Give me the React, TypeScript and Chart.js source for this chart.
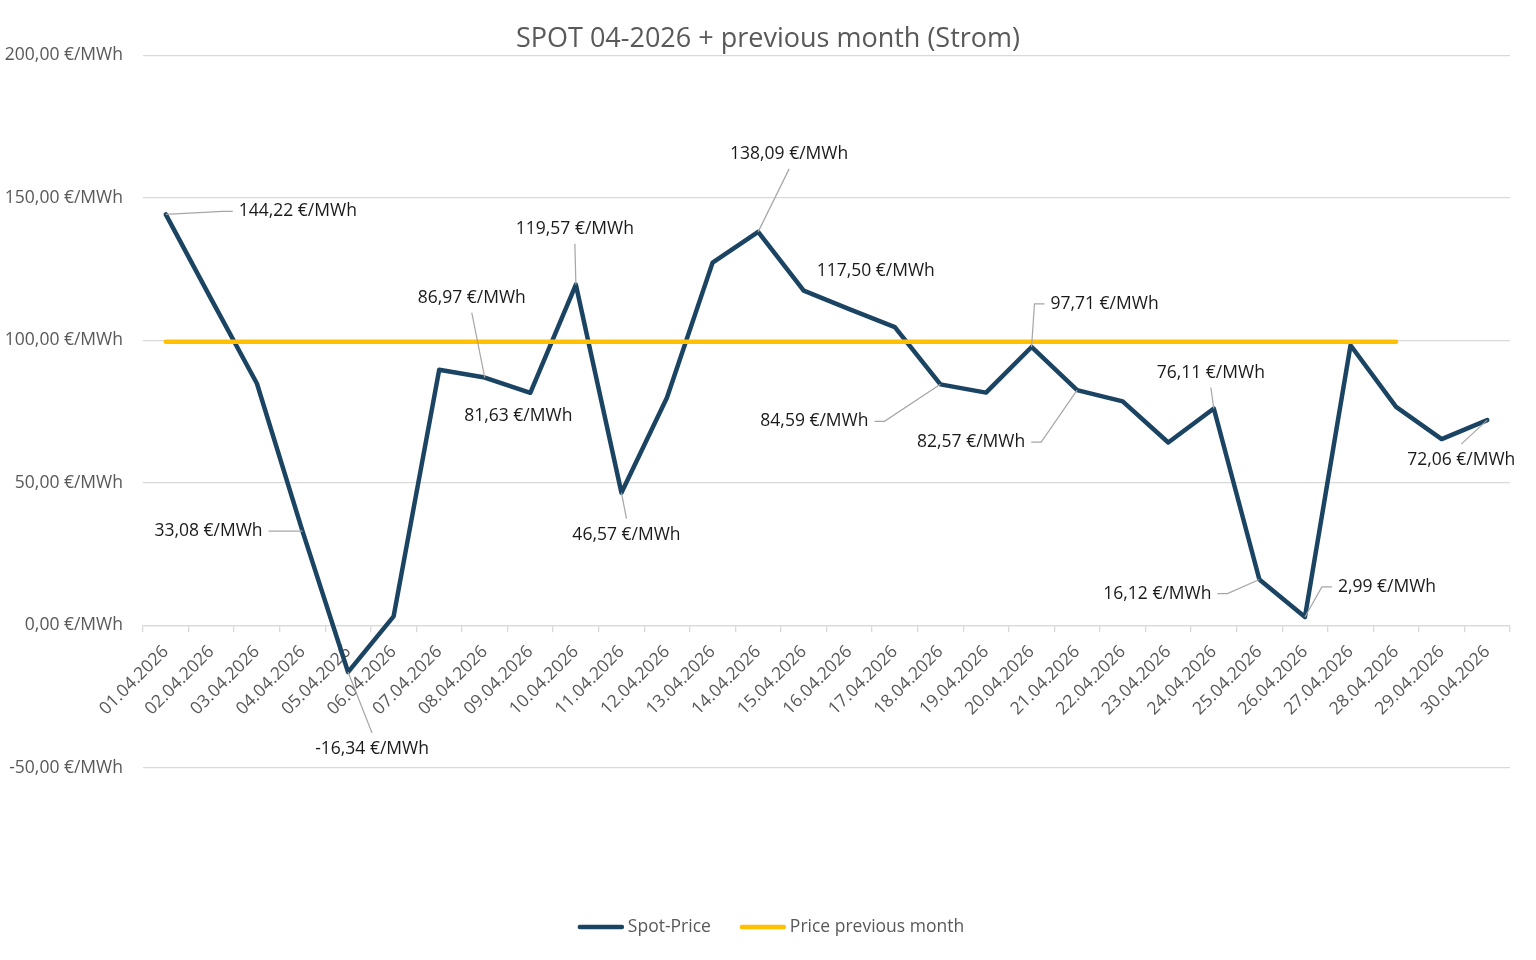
import React, { useEffect, useRef } from 'react';
import { Chart, registerables } from 'chart.js';

Chart.register(...registerables);

// ---------- data ----------
const TITLE = 'SPOT 04-2026 + previous month (Strom)';

const DAYS = [
  '01.04.2026', '02.04.2026', '03.04.2026', '04.04.2026', '05.04.2026', '06.04.2026',
  '07.04.2026', '08.04.2026', '09.04.2026', '10.04.2026', '11.04.2026', '12.04.2026',
  '13.04.2026', '14.04.2026', '15.04.2026', '16.04.2026', '17.04.2026', '18.04.2026',
  '19.04.2026', '20.04.2026', '21.04.2026', '22.04.2026', '23.04.2026', '24.04.2026',
  '25.04.2026', '26.04.2026', '27.04.2026', '28.04.2026', '29.04.2026', '30.04.2026',
];

const SPOT_PRICE = [
  144.22, 114.4, 84.9, 33.08, -16.34, 3.2,
  89.7, 86.97, 81.63, 119.57, 46.57, 80.0,
  127.3, 138.09, 117.5, 111.0, 104.7, 84.59,
  81.7, 97.71, 82.57, 78.6, 64.2, 76.11,
  16.12, 2.99, 98.3, 76.7, 65.4, 72.06,
];

const PREVIOUS_MONTH: (number | null)[] = [
  99.5, 99.5, 99.5, 99.5, 99.5, 99.5,
  99.5, 99.5, 99.5, 99.5, 99.5, 99.5,
  99.5, 99.5, 99.5, 99.5, 99.5, 99.5,
  99.5, 99.5, 99.5, 99.5, 99.5, 99.5,
  99.5, 99.5, 99.5, 99.5, null, null,
];

const SERIES_NAMES = ['Spot-Price', 'Price previous month'];

const Y_MIN = -50;
const Y_MAX = 200;
const Y_STEP = 50;
const UNIT = ' €/MWh';

// indices of the spot points that carry a value label
const LABELED_POINTS = [0, 3, 4, 7, 8, 9, 10, 13, 14, 17, 19, 20, 23, 24, 25, 29];

// ---------- layout / style ----------
// label centre offset from its point (px) and whether a leader line is drawn
const LABEL_OFFSETS: [number, number, boolean][] = [
  [132, -3, true],
  [-94, 0, true],
  [24, 77, true],
  [-13, -80, true],
  [-12, 23, false],
  [-1, -56, true],
  [5, 42, true],
  [31, -78, true],
  [72, -20, false],
  [-126, 37, true],
  [73, -43, true],
  [-106, 52, true],
  [-3, -36, true],
  [-102, 14, true],
  [82, -30, true],
  [-26, 40, true],
];

const FONT = '"Open Sans", "Noto Sans", sans-serif';
const FS = 17.5;
const GRAY = '#595959';
const GRID = '#d9d9d9';
const SPOT_COLOR = '#1b4463';
const PREV_COLOR = '#ffc000';

const fmt = (v: number) => v.toFixed(2).replace('.', ',') + UNIT;

const labelPlugin = {
  id: 'spotLabels',
  afterDatasetsDraw(chart: any) {
    const ctx = chart.ctx as CanvasRenderingContext2D;
    const meta = chart.getDatasetMeta(0);
    ctx.save();
    ctx.font = `${FS}px ${FONT}`;
    ctx.textAlign = 'center';
    ctx.textBaseline = 'middle';
    LABELED_POINTS.forEach((idx, k) => {
      const [dx, dy, leader] = LABEL_OFFSETS[k];
      const el = meta.data[idx];
      const px = el.x;
      const py = el.y;
      const cx = px + dx;
      const cy = py + dy;
      const text = fmt(SPOT_PRICE[idx]);
      const w = ctx.measureText(text).width;
      const left = cx - w / 2;
      const right = cx + w / 2;
      if (leader) {
        ctx.strokeStyle = '#a6a6a6';
        ctx.lineWidth = 1.2;
        ctx.beginPath();
        if (px < left) {
          ctx.moveTo(left - 6, cy);
          ctx.lineTo(left - 16, cy);
          ctx.lineTo(px, py);
        } else if (px > right) {
          ctx.moveTo(right + 6, cy);
          ctx.lineTo(right + 16, cy);
          ctx.lineTo(px, py);
        } else if (py > cy) {
          ctx.moveTo(cx, cy + 15);
          ctx.lineTo(px, py);
        } else {
          ctx.moveTo(cx, cy - 16);
          ctx.lineTo(px, py);
        }
        ctx.stroke();
      }
      ctx.fillStyle = '#1a1a1a';
      ctx.fillText(text, cx, cy);
    });
    ctx.restore();
  },
};

const legendPlugin = {
  id: 'bottomLegend',
  afterDraw(chart: any) {
    const ctx = chart.ctx as CanvasRenderingContext2D;
    ctx.save();
    ctx.font = `${FS}px ${FONT}`;
    ctx.textBaseline = 'middle';
    ctx.textAlign = 'left';
    const items = chart.data.datasets.map((ds: any) => ({ text: ds.label, color: ds.borderColor }));
    const lineLen = 46;
    const gap = 4;
    const spacing = 29;
    const widths = items.map((it: any) => lineLen + gap + ctx.measureText(it.text).width);
    const total = widths.reduce((a: number, b: number) => a + b, 0) + spacing * (items.length - 1);
    let x = chart.width / 2 - total / 2 + 3;
    const y = chart.height - 33;
    items.forEach((it: any, i: number) => {
      ctx.strokeStyle = it.color;
      ctx.lineWidth = 4.5;
      ctx.lineCap = 'round';
      ctx.beginPath();
      ctx.moveTo(x + 2, y);
      ctx.lineTo(x + lineLen - 2, y);
      ctx.stroke();
      ctx.fillStyle = GRAY;
      ctx.fillText(it.text, x + lineLen + gap, y);
      x += widths[i] + spacing;
    });
    ctx.restore();
  },
};

export default function App() {
  const canvasRef = useRef<HTMLCanvasElement | null>(null);

  useEffect(() => {
    document.body.style.margin = '0';
    const canvas = canvasRef.current;
    if (!canvas) return;
    const chart = new Chart(canvas, {
      type: 'line',
      data: {
        labels: DAYS,
        datasets: [
          {
            label: SERIES_NAMES[0],
            data: SPOT_PRICE,
            borderColor: SPOT_COLOR,
            backgroundColor: SPOT_COLOR,
            borderWidth: 4.5,
            borderJoinStyle: 'round',
            borderCapStyle: 'round',
            pointRadius: 0,
            pointHoverRadius: 0,
            tension: 0,
            fill: false,
            order: 1,
            yAxisID: 'y',
          },
          {
            label: SERIES_NAMES[1],
            data: PREVIOUS_MONTH,
            borderColor: PREV_COLOR,
            backgroundColor: PREV_COLOR,
            borderWidth: 4.5,
            borderCapStyle: 'round',
            pointRadius: 0,
            pointHoverRadius: 0,
            tension: 0,
            fill: false,
            spanGaps: false,
            order: 0,
            yAxisID: 'y',
          },
        ],
      },
      options: {
        animation: false,
        responsive: false,
        events: [],
        layout: { padding: { left: 0, right: 0, top: 0, bottom: 192 } },
        plugins: {
          legend: { display: false },
          tooltip: { enabled: false },
          title: {
            display: true,
            text: TITLE,
            color: GRAY,
            font: { family: FONT, size: 27, weight: 'normal', lineHeight: 1.2 },
            padding: { top: 23, bottom: 0 },
          },
        },
        scales: {
          x: {
            type: 'category',
            offset: true,
            position: { y: 0 },
            grid: {
              display: true,
              drawOnChartArea: false,
              drawTicks: true,
              tickLength: 6,
              offset: true,
              color: GRID,
              lineWidth: 1.3,
            },
            border: { display: true, color: GRID, width: 1.3 },
            ticks: {
              autoSkip: false,
              maxRotation: 45,
              minRotation: 45,
              color: GRAY,
              font: { family: FONT, size: FS },
              padding: 10,
            },
          },
          y: {
            position: 'left',
            min: Y_MIN,
            max: Y_MAX,
            ticks: {
              stepSize: Y_STEP,
              color: GRAY,
              font: { family: FONT, size: FS },
              padding: 20,
              callback: (v: any) => fmt(Number(v)),
            },
            grid: { color: GRID, lineWidth: 1.3, drawTicks: false },
            border: { display: false },
            afterFit: (s: any) => {
              s.width = 143;
            },
          },
          // empty right-hand margin, keeps the plot right edge where the reference has it
          yRightMargin: {
            type: 'linear',
            position: 'right',
            display: true,
            min: Y_MIN,
            max: Y_MAX,
            grid: { display: false, drawTicks: false },
            border: { display: false },
            ticks: { display: false },
            afterFit: (s: any) => {
              s.width = 26;
            },
          },
        },
      } as any,
      plugins: [labelPlugin, legendPlugin],
    });
    return () => chart.destroy();
  }, []);

  return (
    <div style={{ width: 1536, height: 960, background: '#ffffff' }}>
      <canvas ref={canvasRef} width={1536} height={960} style={{ display: 'block', width: 1536, height: 960 }} />
    </div>
  );
}
